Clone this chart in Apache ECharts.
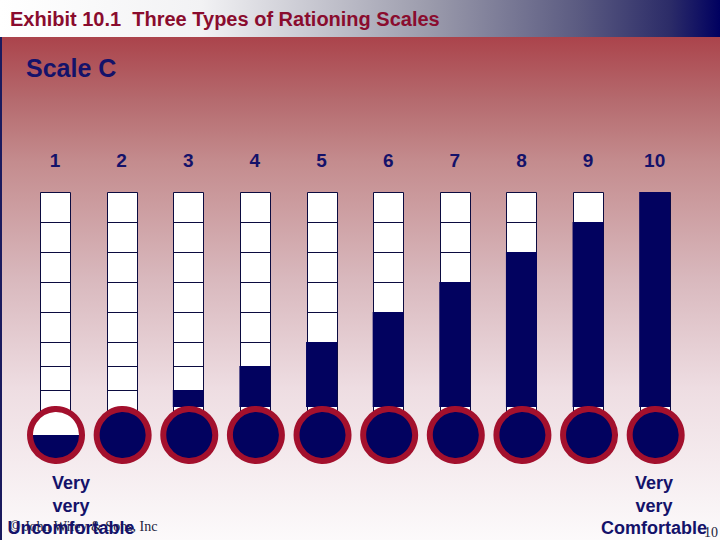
<!DOCTYPE html>
<html><head><meta charset="utf-8">
<script src="https://cdn.jsdelivr.net/npm/echarts@6/dist/echarts.min.js"></script>
<style>html,body{margin:0;padding:0;background:#fff}#c{width:720px;height:540px}</style>
</head><body><div id="c"></div>
<script>
// ---- data ----
const categories = ['1', '2', '3', '4', '5', '6', '7', '8', '9', '10'];
const tubeTop = 215;                                   // tube height on the value axis
const cellEdges = [17, 41, 65, 95, 125, 155, 185];     // cell divider levels
const fillLevels = [0, 0, 17, 41, 65, 95, 125, 155, 185, 215];
const bulbFill = [0.5, 1, 1, 1, 1, 1, 1, 1, 1, 1];     // share of the bulb that is filled
const leftAnchor = ['Very', 'very', 'Uncomfortable'];
const rightAnchor = ['Very', 'very', 'Comfortable'];
const titleText = 'Exhibit 10.1  Three Types of Rationing Scales';
const subtitleText = 'Scale C';
const footerText = '\u00A9 John Wiley & Sons, Inc';
const pageNumber = '10';

// ---- style ----
const NAVY = '#02025f';
const RED = '#a3102d';
const TEXT_NAVY = '#14126a';
const SANS = "'Liberation Sans', Arial, sans-serif";
const SERIF = "'Liberation Serif', 'Times New Roman', serif";
const BULB_LEVEL = -28;
const TUBE_BOTTOM = -20;
const TUBE_W = 30;

const chart = echarts.init(document.getElementById('c'), null, { renderer: 'svg', width: 720, height: 540 });

function tubeItem(params, api) {
  const i = api.value(0);
  const top = api.coord([i, tubeTop]);
  const bot = api.coord([i, TUBE_BOTTOM]);
  const x = Math.round(top[0] - TUBE_W / 2) + 0.5;
  const y0 = Math.round(top[1]) + 0.5;
  const children = [{
    type: 'rect',
    shape: { x: x, y: y0, width: TUBE_W, height: bot[1] - y0 },
    style: { fill: '#ffffff', stroke: '#0b0b40', lineWidth: 1 }
  }];
  cellEdges.forEach(function (v) {
    const p = api.coord([i, v]);
    const yy = Math.round(p[1]) + 0.5;
    children.push({
      type: 'line',
      shape: { x1: x, y1: yy, x2: x + TUBE_W, y2: yy },
      style: { stroke: '#0b0b40', lineWidth: 1 }
    });
  });
  return { type: 'group', children: children };
}

function bulbItem(params, api) {
  const i = api.value(0);
  const f = api.value(1);
  const c = api.coord([i, BULB_LEVEL]);
  const cx = c[0] + 1, cy = c[1];
  const r = 26;
  const children = [{ type: 'circle', shape: { cx: cx, cy: cy, r: r }, style: { fill: '#ffffff' } }];
  if (f >= 1) {
    children.push({ type: 'circle', shape: { cx: cx, cy: cy, r: r }, style: { fill: NAVY } });
  } else if (f > 0) {
    const level = cy + r - 2 * r * f;
    const a = Math.asin(Math.max(-1, Math.min(1, (level - cy) / r)));
    const pts = [];
    const n = 48;
    for (let k = 0; k <= n; k++) {
      const t = a + (Math.PI - 2 * a) * k / n;
      pts.push([cx + r * Math.cos(t), cy + r * Math.sin(t)]);
    }
    children.push({ type: 'polygon', shape: { points: pts }, style: { fill: NAVY } });
  }
  children.push({ type: 'circle', shape: { cx: cx, cy: cy, r: r }, style: { fill: 'none', stroke: RED, lineWidth: 6 } });
  return { type: 'group', children: children };
}

const graphics = [
  { type: 'rect', z: -10, shape: { x: 0, y: 0, width: 720, height: 540 },
    style: { fill: new echarts.graphic.LinearGradient(0, 0, 0, 1, [
      { offset: 0, color: '#a52d37' },
      { offset: 0.185, color: '#b56a6e' },
      { offset: 0.3, color: '#c48c8e' },
      { offset: 0.52, color: '#d9b9be' },
      { offset: 0.72, color: '#eedde2' },
      { offset: 1, color: '#fcfafb' }
    ]) } },
  { type: 'rect', z: -9, shape: { x: 0, y: 0, width: 720, height: 37 },
    style: { fill: new echarts.graphic.LinearGradient(0, 0, 1, 0, [
      { offset: 0, color: '#ffffff' },
      { offset: 0.28, color: '#f2f2f4' },
      { offset: 0.6, color: '#9a9aab' },
      { offset: 0.8, color: '#5c5c82' },
      { offset: 0.93, color: '#2c2c68' },
      { offset: 1, color: '#000060' }
    ]) } },
  { type: 'rect', z: -8, shape: { x: 0, y: 37, width: 2, height: 503 }, style: { fill: '#1a1a5e' } },
  { type: 'text', z: 1, style: { text: footerText, x: 10, y: 533, textAlign: 'left', textVerticalAlign: 'bottom',
      font: '14px ' + SERIF, fill: '#1c1c3c' } },
  { type: 'text', z: 1, style: { text: pageNumber, x: 704, y: 539, textAlign: 'left', textVerticalAlign: 'bottom',
      font: '14px ' + SERIF, fill: '#1c1c3c' } }
];
leftAnchor.forEach(function (t, k) {
  graphics.push({ type: 'text', z: 2, style: { text: t, x: 71, y: 483 + k * 22.5, textAlign: 'center', textVerticalAlign: 'middle',
    font: 'bold 18px ' + SANS, fill: TEXT_NAVY } });
});
rightAnchor.forEach(function (t, k) {
  graphics.push({ type: 'text', z: 2, style: { text: t, x: 654, y: 483 + k * 22.5, textAlign: 'center', textVerticalAlign: 'middle',
    font: 'bold 18px ' + SANS, fill: TEXT_NAVY } });
});

chart.setOption({
  animation: false,
  title: [
    { text: titleText, left: 10, top: 9, padding: 0,
      textStyle: { color: '#8a0c2e', fontSize: 20, fontWeight: 'bold', fontFamily: SANS } },
    { text: subtitleText, left: 26, top: 55, padding: 0,
      textStyle: { color: TEXT_NAVY, fontSize: 25, fontWeight: 'bold', fontFamily: SANS } }
  ],
  graphic: graphics,
  grid: { left: 21.7, right: 32, top: 192, bottom: 133, containLabel: false },
  xAxis: {
    type: 'category', data: categories, position: 'top',
    axisLine: { show: false }, axisTick: { show: false }, splitLine: { show: false },
    axisLabel: { color: TEXT_NAVY, fontSize: 19, fontWeight: 'bold', fontFamily: SANS, margin: 22 }
  },
  yAxis: { type: 'value', min: 0, max: tubeTop, show: false },
  series: [
    { type: 'custom', name: 'tube', renderItem: tubeItem, data: categories.map(function (c, i) { return [i]; }), z: 2 },
    { type: 'bar', name: 'fill', data: fillLevels, barWidth: TUBE_W + 1, itemStyle: { color: NAVY }, z: 3 },
    { type: 'custom', name: 'bulb', renderItem: bulbItem, data: bulbFill.map(function (f, i) { return [i, f]; }), z: 4 }
  ]
});
</script></body></html>
